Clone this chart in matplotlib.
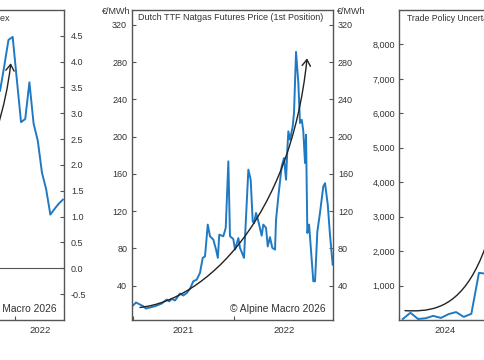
import matplotlib.pyplot as plt
from matplotlib.path import Path
from matplotlib.patches import FancyArrowPatch
from matplotlib.ticker import FixedLocator, NullFormatter, FixedFormatter

plt.rcParams['font.family'] = ['Liberation Sans', 'DejaVu Sans']
plt.rcParams['font.size'] = 6.5

BLUE = '#1f7ac3'
SPINE = '#555555'
TXT = '#333333'

# left panel: supply chain pressure index, monthly
gscpi_months = ["2021-09", "2021-10", "2021-11", "2021-12", "2022-01", "2022-02",
                "2022-03", "2022-04", "2022-05", "2022-06", "2022-07", "2022-08",
                "2022-09", "2022-10", "2022-11", "2022-12"]
gscpi_vals = [3.44, 3.92, 4.42, 4.48, 3.65, 2.83, 2.89, 3.60, 2.80, 2.47, 1.85, 1.53,
              1.04, 1.15, 1.25, 1.33]

# middle panel: Dutch TTF front month, EUR/MWh (decimal years)
ttf_t = [2021.003, 2021.030, 2021.069, 2021.102, 2021.129, 2021.151, 2021.218, 2021.284,
         2021.334, 2021.359, 2021.383, 2021.416, 2021.465, 2021.498, 2021.532, 2021.564,
         2021.597, 2021.631, 2021.663, 2021.690, 2021.713, 2021.740, 2021.762, 2021.795,
         2021.822, 2021.840, 2021.854, 2021.894, 2021.918, 2021.944, 2021.960, 2021.993,
         2022.010, 2022.043, 2022.059, 2022.099, 2022.142, 2022.165, 2022.185, 2022.198,
         2022.218, 2022.241, 2022.274, 2022.290, 2022.317, 2022.334, 2022.356, 2022.379,
         2022.406, 2022.416, 2022.439, 2022.472, 2022.495, 2022.515, 2022.528, 2022.538,
         2022.554, 2022.581, 2022.594, 2022.614, 2022.637, 2022.653, 2022.671, 2022.686,
         2022.703, 2022.713, 2022.726, 2022.743, 2022.769, 2022.785, 2022.802, 2022.825,
         2022.851, 2022.884, 2022.901, 2022.928, 2022.950, 2022.977]
ttf_v = [18.9, 21.8, 19.6, 17.8, 15.3, 16.0, 17.8, 20.7,
         25.0, 23.0, 25.7, 24.0, 31.4, 29.3, 32.0, 36.5,
         44.6, 46.4, 53.6, 69.7, 71.4, 105.5, 92.9, 89.4,
         78.6, 69.7, 94.7, 92.9, 102.0, 173.4, 93.0, 90.0,
         78.6, 91.0, 80.5, 69.7, 164.5, 153.7, 109.0, 107.0,
         118.0, 109.0, 93.6, 105.5, 102.0, 82.0, 92.0, 80.5,
         78.6, 110.8, 135.8, 168.0, 177.0, 153.7, 186.0, 205.6,
         196.7, 211.0, 225.6, 291.0, 257.5, 214.6, 218.0, 205.6,
         171.6, 202.0, 96.5, 105.5, 68.0, 44.6, 44.6, 98.0,
         118.0, 146.5, 150.0, 127.0, 94.7, 62.5]

# right panel: trade policy uncertainty, monthly
tpu_months = ["2024-01", "2024-02", "2024-03", "2024-04", "2024-05", "2024-06",
              "2024-07", "2024-08", "2024-09", "2024-10", "2024-11", "2024-12"]
tpu_vals = [30, 210, 30, 50, 120, 60, 170, 230, 90, 180, 1370, 1340]

# trend arrows (bezier control points, data units)
arrow_left = [(2020.50, 0.33), (2020.70, 0.53), (2021.74, 2.28), (2021.92, 3.97)]
arrow_mid = [(2021.069, 16.5), (2021.713, 24.0), (2022.56, 112.0), (2022.723, 284.0)]
arrow_right = [(2024.066, 271), (2024.549, 213), (2025.099, 450), (2025.275, 7500)]


def month_pos(m):
    y, mo = m.split('-')
    return int(y) + (int(mo) - 0.5) / 12


def frame(ax, years, xlim):
    ax.set_xlim(xlim)
    ax.xaxis.set_major_locator(FixedLocator(years))
    ax.xaxis.set_major_formatter(NullFormatter())
    ax.xaxis.set_minor_locator(FixedLocator([y + 0.5 for y in years]))
    ax.xaxis.set_minor_formatter(FixedFormatter([str(y) for y in years]))
    ax.tick_params(axis='x', which='major', direction='in', length=3, color=SPINE)
    ax.tick_params(axis='x', which='minor', length=0, pad=4, labelcolor=TXT, labelsize=6.8)
    for s in ax.spines.values():
        s.set_color(SPINE)
        s.set_linewidth(1.0)


def curve_arrow(ax, pts):
    path = Path(pts, [Path.MOVETO, Path.CURVE4, Path.CURVE4, Path.CURVE4])
    ax.add_patch(FancyArrowPatch(path=path, arrowstyle='->,head_length=0.45,head_width=0.3',
                                 mutation_scale=10, color='#222222', lw=1.0,
                                 transform=ax.transData, zorder=3))


fig = plt.figure(figsize=(4.85, 3.6), dpi=100)
W = 201 / 485
H = 310 / 360
B = 40 / 360

# left
ax_l = fig.add_axes([-137 / 485, B, W, H])
frame(ax_l, [2019, 2020, 2021, 2022], (2018.98, 2022.98))
ax_l.plot([month_pos(m) for m in gscpi_months], gscpi_vals, color=BLUE, lw=1.4, zorder=2)
ax_l.axhline(0, color=SPINE, lw=0.8)
ax_l.set_ylim(-1, 5)
ax_l.set_yticks([-0.5 + 0.5 * i for i in range(11)])
ax_l.set_yticklabels(['%.1f' % (-0.5 + 0.5 * i) for i in range(11)])
ax_l.yaxis.tick_right()
ax_l.tick_params(axis='y', direction='in', length=3, pad=5, color=SPINE, labelcolor=TXT)
curve_arrow(ax_l, arrow_left)
ax_l.text(146.5 / 201, 1 - 9 / 310, 'Global Supply Chain Pressure Index', transform=ax_l.transAxes,
          ha='right', va='center', color=TXT)
ax_l.text(0.965, 0.035, '© Alpine Macro 2026', transform=ax_l.transAxes,
          ha='right', va='center', fontsize=7.4, color=TXT)

# middle
ax_m = fig.add_axes([132 / 485, B, W, H])
frame(ax_m, [2021, 2022], (2020.99, 2022.98))
ax_m.plot(ttf_t, ttf_v, color=BLUE, lw=1.4, zorder=2)
ax_m.set_ylim(3, 336)
ax_m.set_yticks(range(40, 321, 40))
ax_m.tick_params(axis='y', direction='in', length=3, pad=3.5, color=SPINE, labelcolor=TXT,
                 left=True, right=True, labelleft=True, labelright=True)
curve_arrow(ax_m, arrow_mid)
ax_m.text(6 / 201, 1 - 8 / 310, 'Dutch TTF Natgas Futures Price (1st Position)',
          transform=ax_m.transAxes, ha='left', va='center', color=TXT)
ax_m.text(0.965, 0.035, '© Alpine Macro 2026', transform=ax_m.transAxes,
          ha='right', va='center', fontsize=7.4, color=TXT)
ax_m.text(-0.01, 0.995, '€/MWh', transform=ax_m.transAxes, ha='right', va='center', color=TXT)
ax_m.text(1.02, 0.995, '€/MWh', transform=ax_m.transAxes, ha='left', va='center', color=TXT)

# right
ax_r = fig.add_axes([399 / 485, B, W, H])
frame(ax_r, [2024, 2025, 2026], (2024.0, 2026.2))
ax_r.plot([month_pos(m) for m in tpu_months], tpu_vals, color=BLUE, lw=1.4, zorder=2)
ax_r.set_ylim(0, 9000)
ax_r.set_yticks(range(1000, 8001, 1000))
ax_r.set_yticklabels(['{:,}'.format(v) for v in range(1000, 8001, 1000)])
ax_r.tick_params(axis='y', direction='in', length=3, pad=3, color=SPINE, labelcolor=TXT)
curve_arrow(ax_r, arrow_right)
ax_r.text(8 / 201, 1 - 9 / 310, 'Trade Policy Uncertainty Index', transform=ax_r.transAxes,
          ha='left', va='center', color=TXT, fontsize=6.2)

fig.savefig('out.png', dpi=100)
